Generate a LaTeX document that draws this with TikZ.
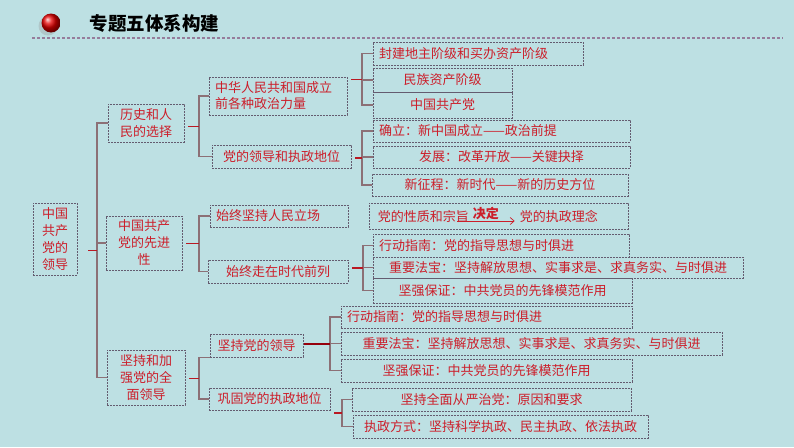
\documentclass[tikz,border=0pt]{standalone}
\usepackage{fontspec}
\setmainfont{Noto Sans CJK SC}
\usepackage{xcolor}
\usepackage{tikz}
\usetikzlibrary{arrows.meta,positioning,calc}
\definecolor{bgcyan}{RGB}{189,224,227}
\definecolor{txtred}{RGB}{204,30,42}
\definecolor{boxgray}{RGB}{100,92,112}
\definecolor{brkgray}{RGB}{140,112,118}
\definecolor{stubred}{RGB}{185,25,35}
\definecolor{darkred}{RGB}{150,0,12}
\definecolor{rulegray}{RGB}{150,125,155}

\begin{document}
\begin{tikzpicture}[
    x=1pt, y=-1pt,
    every node/.style={font=\fontsize{13}{17}\selectfont},
    box/.style={draw=boxgray, dash pattern=on 2pt off 1pt, line width=0.6pt, text=txtred, inner xsep=6pt, inner ysep=0pt, align=center},
    brk/.style={draw=brkgray, line width=1.2pt},
    stub/.style={draw=stubred, line width=1.2pt, shorten <=4pt},
    rule/.style={draw=rulegray, line width=1.2pt, dash pattern=on 3pt off 2pt}
]
\useasboundingbox (0,0) rectangle (794,447);
\fill[bgcyan] (0,0) rectangle (794,447);

\fill[black!40, opacity=.35] (48,26) circle (9.5);
\shade[ball color=red!90!black] (51,23) circle (9.5);
\node[anchor=west, font=\fontsize{18.5}{20}\selectfont\bfseries] (title) at (86,23) {专题五体系构建};
\draw[rule] (32,38) -- (783,38);

\node[box, minimum width=44, minimum height=72] (root) at (55,239) {中国\\共产\\党的\\领导};
\node[box, minimum width=76, minimum height=38] (hist) at (146,123) {历史和人\\民的选择};
\node[box, minimum width=76, minimum height=54] (adv) at (144,243) {中国共产\\党的先进\\性};
\node[box, minimum width=78, minimum height=55] (lead) at (146,377.5) {坚持和加\\强党的全\\面领导};

\node[box, text width=126, align=left, minimum height=38, font=\fontsize{13}{16}\selectfont] (forces) at (278,96) {中华人民共和国成立\\前各种政治力量};
\node[box, minimum width=139, minimum height=23] (status) at (281.5,156.5) {党的领导和执政地位};
\node[box, text width=126, align=left, minimum height=22] (people) at (279,216) {始终坚持人民立场};
\node[box, minimum width=140, minimum height=23] (times) at (278,271.5) {始终走在时代前列};
\node[box, minimum width=93, minimum height=23] (uphold) at (256.5,345.5) {坚持党的领导};
\node[box, minimum width=121, minimum height=22] (govern) at (269.5,399) {巩固党的执政地位};

\node[box, text width=198, align=left, minimum height=23] (cls1) at (478,53.5) {封建地主阶级和买办资产阶级};
\node[box, minimum width=139, minimum height=24] (cls2) at (442.5,80) {民族资产阶级};
\node[box, minimum width=139, minimum height=26] (cls3) at (442.5,105) {中国共产党};

\node[box, text width=245, align=left, minimum height=22] (st1) at (501.5,131) {确立：新中国成立——政治前提};
\node[box, minimum width=257, minimum height=22] (st2) at (501.5,157) {发展：改革开放——关键抉择};
\node[box, minimum width=256, minimum height=22] (st3) at (500,185) {新征程：新时代——新的历史方位};

\node[box, minimum width=259, minimum height=26] (idea) at (498.5,216) {};
\node[text=txtred, inner sep=0pt, anchor=west] (nature) at ([xshift=9pt]idea.west) {党的性质和宗旨};
\node[text=txtred, inner sep=0pt, anchor=west] (concept) at ([xshift=151pt]idea.west) {党的执政理念};
\draw[-{Straight Barb[length=4pt,width=7pt]}, draw=txtred, line width=0.7pt]
    ([xshift=-12pt,yshift=-5pt]nature.east) -- node[above=1pt, inner sep=0pt, text=txtred, font=\fontsize{13}{16}\selectfont\bfseries] {决定} ([xshift=-5pt,yshift=-5pt]concept.west);

\node[box, text width=244, align=left, minimum height=23] (guide1) at (501,245.5) {行动指南：党的指导思想与时俱进};
\node[box, minimum width=370, minimum height=21] (magic1) at (558,267.5) {重要法宝：坚持解放思想、实事求是、求真务实、与时俱进};
\node[box, minimum width=259, minimum height=25] (guar1) at (502.5,290.5) {坚强保证：中共党员的先锋模范作用};

\node[box, text width=279, align=left, minimum height=22] (guide2) at (486.5,317) {行动指南：党的指导思想与时俱进};
\node[box, minimum width=381, minimum height=23] (magic2) at (531.5,343.5) {重要法宝：坚持解放思想、实事求是、求真务实、与时俱进};
\node[box, minimum width=291, minimum height=23] (guar2) at (486.5,370.5) {坚强保证：中共党员的先锋模范作用};

\node[box, minimum width=279, minimum height=23] (strict) at (491.5,399.5) {坚持全面从严治党：原因和要求};
\node[box, minimum width=295, minimum height=23] (mode) at (500.5,426.5) {执政方式：坚持科学执政、民主执政、依法执政};

\coordinate (b0) at (97,0);
\coordinate (b1) at (199,0);
\coordinate (b2) at (362,0);
\coordinate (b3) at (363,0);
\coordinate (b4) at (330,0);
\coordinate (b5) at (342,0);

\draw[brk] (hist.west) -- (hist.west -| b0) -- (lead.west -| b0) -- (lead.west);
\draw[brk] (adv.west) -- (adv.west -| b0);
\coordinate (m0) at ($(hist.west -| b0)!.5!(lead.west -| b0)$);
\draw[stub, shorten <=11pt] (root.east |- m0) -- (m0);

\draw[brk] (forces.west) -- (forces.west -| b1) -- (status.west -| b1) -- (status.west);
\coordinate (m1) at ($(forces.west -| b1)!.5!(status.west -| b1)$);
\draw[stub] (hist.east |- m1) -- (m1);

\draw[brk] (people.west) -- (people.west -| b1) -- (times.west -| b1) -- (times.west);
\coordinate (m2) at ($(people.west -| b1)!.5!(times.west -| b1)$);
\draw[stub] (adv.east |- m2) -- (m2);

\draw[brk] (uphold.south west) -- (uphold.south west -| b1) -- (govern.west -| b1) -- (govern.west);
\coordinate (m3) at ($(uphold.south west -| b1)!.5!(govern.west -| b1)$);
\draw[stub] (lead.east |- m3) -- (m3);

\draw[brk] (cls1.west) -- (cls1.west -| b2) -- (cls3.west -| b2) -- (cls3.west);
\draw[brk] (cls2.west) -- (cls2.west -| b2);
\coordinate (m4) at ($(cls1.west -| b2)!.5!(cls3.west -| b2)$);
\draw[stub] (forces.east |- m4) -- (m4);

\draw[brk] (st1.west) -- (st1.west -| b2) -- (st3.west -| b2) -- (st3.west);
\draw[brk] (st2.west) -- (st2.west -| b2);
\coordinate (m5) at ($(st1.west -| b2)!.5!(st3.west -| b2)$);
\draw[stub] (status.east |- m5) -- (m5);

\draw[brk] (guide1.west) -- (guide1.west -| b3) -- (guar1.west -| b3) -- (guar1.west);
\draw[brk] (magic1.west) -- (magic1.west -| b3);
\coordinate (m6) at ($(guide1.west -| b3)!.5!(guar1.west -| b3)$);
\draw[stub] (times.east |- m6) -- (m6);

\draw[brk] (guide2.west) -- (guide2.west -| b4) -- (guar2.west -| b4) -- (guar2.west);
\draw[brk] (magic2.west) -- (magic2.west -| b4);
\coordinate (m7) at ($(guide2.west -| b4)!.5!(guar2.west -| b4)$);
\draw[stub, draw=darkred, line width=2pt, shorten <=1pt] (uphold.east |- m7) -- (m7);

\draw[brk] (strict.west) -- (strict.west -| b5) -- (mode.west -| b5) -- (mode.west);
\coordinate (m8) at ($(strict.west -| b5)!.5!(mode.west -| b5)$);
\draw[stub] (govern.east |- m8) -- (m8);
\end{tikzpicture}
\end{document}
